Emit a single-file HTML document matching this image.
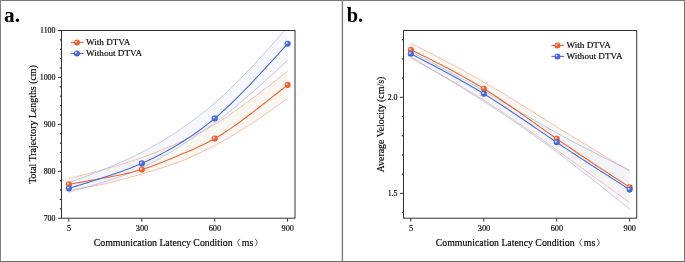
<!DOCTYPE html>
<html><head><meta charset="utf-8">
<style>
html,body{margin:0;padding:0;background:#fff;}
body{width:685px;height:262px;overflow:hidden;}
svg{display:block;will-change:transform;transform:translateZ(0);font-family:"Liberation Serif",serif;}
text{fill:#000;}
</style></head>
<body>
<svg width="685" height="262" viewBox="0 0 685 262">
<defs>
<radialGradient id="go" cx="0.4" cy="0.38" r="0.65">
<stop offset="0" stop-color="#F4734A"/><stop offset="0.6" stop-color="#F0602E"/><stop offset="1" stop-color="#E4521F"/>
</radialGradient>
<radialGradient id="gb" cx="0.4" cy="0.38" r="0.65">
<stop offset="0" stop-color="#5F80E2"/><stop offset="0.6" stop-color="#4669D6"/><stop offset="1" stop-color="#3859C6"/>
</radialGradient>
</defs>
<rect x="0" y="0" width="685" height="262" fill="#fff"/>
<g>
<rect x="0" y="0" width="685" height="1" fill="#787878"/>
<rect x="0" y="261" width="685" height="1" fill="#6a6a6a"/>
<rect x="0" y="0" width="1" height="262" fill="#808080"/>
<rect x="684" y="0" width="1" height="262" fill="#737373"/>
<rect x="341.7" y="0" width="1.4" height="262" fill="#7c7c7c"/>
</g>
<clipPath id="ca"><rect x="61.5" y="30.5" width="233.5" height="187.7"/></clipPath>
<g clip-path="url(#ca)"><path d="M68.80,178.60 L72.51,177.66 L76.22,176.71 L79.93,175.76 L83.63,174.80 L87.34,173.84 L91.05,172.87 L94.76,171.89 L98.47,170.89 L102.18,169.88 L105.88,168.85 L109.59,167.81 L113.30,166.74 L117.01,165.65 L120.72,164.53 L124.43,163.39 L128.14,162.22 L131.84,161.01 L135.55,159.77 L139.26,158.50 L142.97,157.18 L146.68,155.83 L150.39,154.43 L154.09,153.00 L157.80,151.53 L161.51,150.03 L165.22,148.50 L168.93,146.94 L172.64,145.35 L176.35,143.73 L180.05,142.09 L183.76,140.41 L187.47,138.70 L191.18,136.95 L194.89,135.15 L198.60,133.29 L202.31,131.37 L206.01,129.38 L209.72,127.31 L213.43,125.16 L217.14,122.91 L220.85,120.58 L224.56,118.17 L228.26,115.68 L231.97,113.13 L235.68,110.52 L239.39,107.86 L243.10,105.16 L246.81,102.43 L250.52,99.66 L254.22,96.88 L257.93,94.08 L261.64,91.26 L265.35,88.44 L269.06,85.60 L272.77,82.75 L276.47,79.89 L280.18,77.03 L283.89,74.17 L287.60,71.30 L287.60,98.30 L283.89,100.99 L280.18,103.67 L276.47,106.34 L272.77,109.00 L269.06,111.63 L265.35,114.24 L261.64,116.82 L257.93,119.36 L254.22,121.86 L250.52,124.32 L246.81,126.72 L243.10,129.08 L239.39,131.38 L235.68,133.64 L231.97,135.84 L228.26,138.00 L224.56,140.11 L220.85,142.18 L217.14,144.20 L213.43,146.17 L209.72,148.10 L206.01,149.98 L202.31,151.81 L198.60,153.59 L194.89,155.31 L191.18,156.97 L187.47,158.58 L183.76,160.13 L180.05,161.61 L176.35,163.02 L172.64,164.38 L168.93,165.67 L165.22,166.91 L161.51,168.11 L157.80,169.27 L154.09,170.40 L150.39,171.51 L146.68,172.59 L142.97,173.66 L139.26,174.73 L135.55,175.79 L131.84,176.84 L128.14,177.87 L124.43,178.88 L120.72,179.87 L117.01,180.83 L113.30,181.76 L109.59,182.65 L105.88,183.50 L102.18,184.31 L98.47,185.07 L94.76,185.80 L91.05,186.49 L87.34,187.15 L83.63,187.79 L79.93,188.41 L76.22,189.01 L72.51,189.61 L68.80,190.20 Z" fill="#F5EDE3" fill-opacity="0.5" stroke="none"/></g>
<g clip-path="url(#ca)"><path d="M68.80,182.60 L72.51,181.26 L76.22,179.91 L79.93,178.56 L83.63,177.19 L87.34,175.82 L91.05,174.43 L94.76,173.02 L98.47,171.59 L102.18,170.13 L105.88,168.64 L109.59,167.13 L113.30,165.57 L117.01,163.99 L120.72,162.36 L124.43,160.70 L128.14,158.99 L131.84,157.24 L135.55,155.44 L139.26,153.59 L142.97,151.70 L146.68,149.75 L150.39,147.74 L154.09,145.68 L157.80,143.57 L161.51,141.39 L165.22,139.16 L168.93,136.87 L172.64,134.51 L176.35,132.10 L180.05,129.62 L183.76,127.07 L187.47,124.46 L191.18,121.78 L194.89,119.02 L198.60,116.19 L202.31,113.29 L206.01,110.31 L209.72,107.24 L213.43,104.10 L217.14,100.87 L220.85,97.55 L224.56,94.15 L228.26,90.68 L231.97,87.13 L235.68,83.50 L239.39,79.81 L243.10,76.04 L246.81,72.21 L250.52,68.31 L254.22,64.36 L257.93,60.35 L261.64,56.29 L265.35,52.18 L269.06,48.04 L272.77,43.87 L276.47,39.67 L280.18,35.46 L283.89,31.23 L287.60,27.00 L287.60,60.30 L283.89,63.74 L280.18,67.17 L276.47,70.60 L272.77,74.02 L269.06,77.42 L265.35,80.79 L261.64,84.15 L257.93,87.47 L254.22,90.77 L250.52,94.02 L246.81,97.24 L243.10,100.41 L239.39,103.54 L235.68,106.62 L231.97,109.65 L228.26,112.62 L224.56,115.54 L220.85,118.40 L217.14,121.19 L213.43,123.93 L209.72,126.60 L206.01,129.21 L202.31,131.76 L198.60,134.27 L194.89,136.73 L191.18,139.15 L187.47,141.54 L183.76,143.89 L180.05,146.22 L176.35,148.53 L172.64,150.81 L168.93,153.07 L165.22,155.28 L161.51,157.46 L157.80,159.57 L154.09,161.63 L150.39,163.61 L146.68,165.52 L142.97,167.34 L139.26,169.07 L135.55,170.71 L131.84,172.26 L128.14,173.74 L124.43,175.15 L120.72,176.50 L117.01,177.79 L113.30,179.04 L109.59,180.25 L105.88,181.42 L102.18,182.58 L98.47,183.71 L94.76,184.82 L91.05,185.92 L87.34,187.00 L83.63,188.08 L79.93,189.14 L76.22,190.20 L72.51,191.25 L68.80,192.30 Z" fill="#EDF1FB" fill-opacity="0.5" stroke="none"/></g>
<g clip-path="url(#ca)"><path d="M68.80,178.60 L72.51,177.66 L76.22,176.71 L79.93,175.76 L83.63,174.80 L87.34,173.84 L91.05,172.87 L94.76,171.89 L98.47,170.89 L102.18,169.88 L105.88,168.85 L109.59,167.81 L113.30,166.74 L117.01,165.65 L120.72,164.53 L124.43,163.39 L128.14,162.22 L131.84,161.01 L135.55,159.77 L139.26,158.50 L142.97,157.18 L146.68,155.83 L150.39,154.43 L154.09,153.00 L157.80,151.53 L161.51,150.03 L165.22,148.50 L168.93,146.94 L172.64,145.35 L176.35,143.73 L180.05,142.09 L183.76,140.41 L187.47,138.70 L191.18,136.95 L194.89,135.15 L198.60,133.29 L202.31,131.37 L206.01,129.38 L209.72,127.31 L213.43,125.16 L217.14,122.91 L220.85,120.58 L224.56,118.17 L228.26,115.68 L231.97,113.13 L235.68,110.52 L239.39,107.86 L243.10,105.16 L246.81,102.43 L250.52,99.66 L254.22,96.88 L257.93,94.08 L261.64,91.26 L265.35,88.44 L269.06,85.60 L272.77,82.75 L276.47,79.89 L280.18,77.03 L283.89,74.17 L287.60,71.30" fill="none" stroke="#F5A68E" stroke-width="0.7"/><path d="M68.80,190.20 L72.51,189.61 L76.22,189.01 L79.93,188.41 L83.63,187.79 L87.34,187.15 L91.05,186.49 L94.76,185.80 L98.47,185.07 L102.18,184.31 L105.88,183.50 L109.59,182.65 L113.30,181.76 L117.01,180.83 L120.72,179.87 L124.43,178.88 L128.14,177.87 L131.84,176.84 L135.55,175.79 L139.26,174.73 L142.97,173.66 L146.68,172.59 L150.39,171.51 L154.09,170.40 L157.80,169.27 L161.51,168.11 L165.22,166.91 L168.93,165.67 L172.64,164.38 L176.35,163.02 L180.05,161.61 L183.76,160.13 L187.47,158.58 L191.18,156.97 L194.89,155.31 L198.60,153.59 L202.31,151.81 L206.01,149.98 L209.72,148.10 L213.43,146.17 L217.14,144.20 L220.85,142.18 L224.56,140.11 L228.26,138.00 L231.97,135.84 L235.68,133.64 L239.39,131.38 L243.10,129.08 L246.81,126.72 L250.52,124.32 L254.22,121.86 L257.93,119.36 L261.64,116.82 L265.35,114.24 L269.06,111.63 L272.77,109.00 L276.47,106.34 L280.18,103.67 L283.89,100.99 L287.60,98.30" fill="none" stroke="#F5A68E" stroke-width="0.7"/></g>
<g clip-path="url(#ca)"><path d="M68.80,182.60 L72.51,181.26 L76.22,179.91 L79.93,178.56 L83.63,177.19 L87.34,175.82 L91.05,174.43 L94.76,173.02 L98.47,171.59 L102.18,170.13 L105.88,168.64 L109.59,167.13 L113.30,165.57 L117.01,163.99 L120.72,162.36 L124.43,160.70 L128.14,158.99 L131.84,157.24 L135.55,155.44 L139.26,153.59 L142.97,151.70 L146.68,149.75 L150.39,147.74 L154.09,145.68 L157.80,143.57 L161.51,141.39 L165.22,139.16 L168.93,136.87 L172.64,134.51 L176.35,132.10 L180.05,129.62 L183.76,127.07 L187.47,124.46 L191.18,121.78 L194.89,119.02 L198.60,116.19 L202.31,113.29 L206.01,110.31 L209.72,107.24 L213.43,104.10 L217.14,100.87 L220.85,97.55 L224.56,94.15 L228.26,90.68 L231.97,87.13 L235.68,83.50 L239.39,79.81 L243.10,76.04 L246.81,72.21 L250.52,68.31 L254.22,64.36 L257.93,60.35 L261.64,56.29 L265.35,52.18 L269.06,48.04 L272.77,43.87 L276.47,39.67 L280.18,35.46 L283.89,31.23 L287.60,27.00" fill="none" stroke="#A2B6EB" stroke-width="0.7"/><path d="M68.80,192.30 L72.51,191.25 L76.22,190.20 L79.93,189.14 L83.63,188.08 L87.34,187.00 L91.05,185.92 L94.76,184.82 L98.47,183.71 L102.18,182.58 L105.88,181.42 L109.59,180.25 L113.30,179.04 L117.01,177.79 L120.72,176.50 L124.43,175.15 L128.14,173.74 L131.84,172.26 L135.55,170.71 L139.26,169.07 L142.97,167.34 L146.68,165.52 L150.39,163.61 L154.09,161.63 L157.80,159.57 L161.51,157.46 L165.22,155.28 L168.93,153.07 L172.64,150.81 L176.35,148.53 L180.05,146.22 L183.76,143.89 L187.47,141.54 L191.18,139.15 L194.89,136.73 L198.60,134.27 L202.31,131.76 L206.01,129.21 L209.72,126.60 L213.43,123.93 L217.14,121.19 L220.85,118.40 L224.56,115.54 L228.26,112.62 L231.97,109.65 L235.68,106.62 L239.39,103.54 L243.10,100.41 L246.81,97.24 L250.52,94.02 L254.22,90.77 L257.93,87.47 L261.64,84.15 L265.35,80.79 L269.06,77.42 L272.77,74.02 L276.47,70.60 L280.18,67.17 L283.89,63.74 L287.60,60.30" fill="none" stroke="#A2B6EB" stroke-width="0.7"/></g>
<path d="M68.80,184.40 L72.51,183.73 L76.22,183.05 L79.93,182.38 L83.63,181.71 L87.34,181.03 L91.05,180.36 L94.76,179.68 L98.47,179.00 L102.18,178.32 L105.88,177.64 L109.59,176.95 L113.30,176.25 L117.01,175.53 L120.72,174.78 L124.43,173.98 L128.14,173.15 L131.84,172.25 L135.55,171.29 L139.26,170.26 L142.97,169.14 L146.68,167.94 L150.39,166.66 L154.09,165.32 L157.80,163.91 L161.51,162.47 L165.22,160.98 L168.93,159.46 L172.64,157.93 L176.35,156.39 L180.05,154.85 L183.76,153.30 L187.47,151.74 L191.18,150.15 L194.89,148.52 L198.60,146.84 L202.31,145.09 L206.01,143.26 L209.72,141.34 L213.43,139.32 L217.14,137.18 L220.85,134.93 L224.56,132.57 L228.26,130.12 L231.97,127.58 L235.68,124.97 L239.39,122.29 L243.10,119.56 L246.81,116.78 L250.52,113.97 L254.22,111.13 L257.93,108.27 L261.64,105.39 L265.35,102.50 L269.06,99.59 L272.77,96.66 L276.47,93.73 L280.18,90.79 L283.89,87.85 L287.60,84.90" fill="none" stroke="#F06432" stroke-width="1.1" stroke-linecap="round"/>
<path d="M68.80,188.40 L72.51,187.25 L76.22,186.11 L79.93,184.96 L83.63,183.80 L87.34,182.64 L91.05,181.48 L94.76,180.30 L98.47,179.12 L102.18,177.92 L105.88,176.71 L109.59,175.49 L113.30,174.24 L117.01,172.97 L120.72,171.67 L124.43,170.33 L128.14,168.94 L131.84,167.51 L135.55,166.03 L139.26,164.49 L142.97,162.89 L146.68,161.21 L150.39,159.48 L154.09,157.67 L157.80,155.80 L161.51,153.87 L165.22,151.87 L168.93,149.81 L172.64,147.68 L176.35,145.50 L180.05,143.25 L183.76,140.93 L187.47,138.55 L191.18,136.10 L194.89,133.56 L198.60,130.93 L202.31,128.22 L206.01,125.40 L209.72,122.49 L213.43,119.46 L217.14,116.32 L220.85,113.07 L224.56,109.72 L228.26,106.27 L231.97,102.74 L235.68,99.12 L239.39,95.43 L243.10,91.68 L246.81,87.87 L250.52,84.01 L254.22,80.11 L257.93,76.17 L261.64,72.19 L265.35,68.19 L269.06,64.16 L272.77,60.12 L276.47,56.05 L280.18,51.97 L283.89,47.89 L287.60,43.80" fill="none" stroke="#486CD8" stroke-width="1.1" stroke-linecap="round"/>
<circle cx="68.80" cy="184.40" r="3.05" fill="url(#go)"/><circle cx="67.95" cy="183.60" r="0.95" fill="#fff" fill-opacity="0.8"/>
<circle cx="141.80" cy="169.50" r="3.05" fill="url(#go)"/><circle cx="140.95" cy="168.70" r="0.95" fill="#fff" fill-opacity="0.8"/>
<circle cx="214.70" cy="138.60" r="3.05" fill="url(#go)"/><circle cx="213.85" cy="137.80" r="0.95" fill="#fff" fill-opacity="0.8"/>
<circle cx="287.60" cy="84.90" r="3.05" fill="url(#go)"/><circle cx="286.75" cy="84.10" r="0.95" fill="#fff" fill-opacity="0.8"/>
<circle cx="68.80" cy="188.40" r="3.05" fill="url(#gb)"/><circle cx="67.95" cy="187.60" r="0.95" fill="#fff" fill-opacity="0.8"/>
<circle cx="141.80" cy="163.40" r="3.05" fill="url(#gb)"/><circle cx="140.95" cy="162.60" r="0.95" fill="#fff" fill-opacity="0.8"/>
<circle cx="214.70" cy="118.40" r="3.05" fill="url(#gb)"/><circle cx="213.85" cy="117.60" r="0.95" fill="#fff" fill-opacity="0.8"/>
<circle cx="287.60" cy="43.80" r="3.05" fill="url(#gb)"/><circle cx="286.75" cy="43.00" r="0.95" fill="#fff" fill-opacity="0.8"/>
<rect x="61.5" y="30.5" width="233.5" height="187.7" fill="none" stroke="#333" stroke-width="1"/>
<line x1="57.9" y1="30.5" x2="61.5" y2="30.5" stroke="#333" stroke-width="1"/>
<text x="55.5" y="33.40" font-size="7.9" text-anchor="end" stroke="#000" stroke-width="0.15">1100</text>
<line x1="57.9" y1="77.4" x2="61.5" y2="77.4" stroke="#333" stroke-width="1"/>
<text x="55.5" y="80.30" font-size="7.9" text-anchor="end" stroke="#000" stroke-width="0.15">1000</text>
<line x1="57.9" y1="124.3" x2="61.5" y2="124.3" stroke="#333" stroke-width="1"/>
<text x="55.5" y="127.20" font-size="7.9" text-anchor="end" stroke="#000" stroke-width="0.15">900</text>
<line x1="57.9" y1="171.3" x2="61.5" y2="171.3" stroke="#333" stroke-width="1"/>
<text x="55.5" y="174.20" font-size="7.9" text-anchor="end" stroke="#000" stroke-width="0.15">800</text>
<line x1="57.9" y1="218.2" x2="61.5" y2="218.2" stroke="#333" stroke-width="1"/>
<text x="55.5" y="221.10" font-size="7.9" text-anchor="end" stroke="#000" stroke-width="0.15">700</text>
<line x1="59.8" y1="39.88" x2="61.5" y2="39.88" stroke="#222" stroke-width="1.1"/>
<line x1="59.8" y1="49.27" x2="61.5" y2="49.27" stroke="#222" stroke-width="1.1"/>
<line x1="59.8" y1="58.66" x2="61.5" y2="58.66" stroke="#222" stroke-width="1.1"/>
<line x1="59.8" y1="68.04" x2="61.5" y2="68.04" stroke="#222" stroke-width="1.1"/>
<line x1="59.8" y1="86.81" x2="61.5" y2="86.81" stroke="#222" stroke-width="1.1"/>
<line x1="59.8" y1="96.19" x2="61.5" y2="96.19" stroke="#222" stroke-width="1.1"/>
<line x1="59.8" y1="105.58" x2="61.5" y2="105.58" stroke="#222" stroke-width="1.1"/>
<line x1="59.8" y1="114.97" x2="61.5" y2="114.97" stroke="#222" stroke-width="1.1"/>
<line x1="59.8" y1="133.74" x2="61.5" y2="133.74" stroke="#222" stroke-width="1.1"/>
<line x1="59.8" y1="143.12" x2="61.5" y2="143.12" stroke="#222" stroke-width="1.1"/>
<line x1="59.8" y1="152.50" x2="61.5" y2="152.50" stroke="#222" stroke-width="1.1"/>
<line x1="59.8" y1="161.89" x2="61.5" y2="161.89" stroke="#222" stroke-width="1.1"/>
<line x1="59.8" y1="180.66" x2="61.5" y2="180.66" stroke="#222" stroke-width="1.1"/>
<line x1="59.8" y1="190.04" x2="61.5" y2="190.04" stroke="#222" stroke-width="1.1"/>
<line x1="59.8" y1="199.43" x2="61.5" y2="199.43" stroke="#222" stroke-width="1.1"/>
<line x1="59.8" y1="208.81" x2="61.5" y2="208.81" stroke="#222" stroke-width="1.1"/>
<line x1="68.8" y1="218.2" x2="68.8" y2="221.6" stroke="#333" stroke-width="1"/>
<text x="69.0" y="230.80" font-size="8.3" text-anchor="middle" stroke="#000" stroke-width="0.15">5</text>
<line x1="141.8" y1="218.2" x2="141.8" y2="221.6" stroke="#333" stroke-width="1"/>
<text x="142.0" y="230.80" font-size="8.3" text-anchor="middle" stroke="#000" stroke-width="0.15">300</text>
<line x1="214.7" y1="218.2" x2="214.7" y2="221.6" stroke="#333" stroke-width="1"/>
<text x="214.89999999999998" y="230.80" font-size="8.3" text-anchor="middle" stroke="#000" stroke-width="0.15">600</text>
<line x1="287.6" y1="218.2" x2="287.6" y2="221.6" stroke="#333" stroke-width="1"/>
<text x="287.8" y="230.80" font-size="8.3" text-anchor="middle" stroke="#000" stroke-width="0.15">900</text>
<text x="93.8" y="245.8" font-size="9.8" stroke="#000" stroke-width="0.15">Communication Latency Condition</text>
<path d="M239.9,238.7 Q235.7,242.5 239.9,246.4" fill="none" stroke="#222" stroke-width="0.75"/>
<text x="241.85" y="245.8" font-size="9.8" stroke="#000" stroke-width="0.15">ms</text>
<path d="M255.0,238.7 Q259.3,242.5 255.0,246.4" fill="none" stroke="#222" stroke-width="0.75"/>
<text transform="translate(35.7,124.5) rotate(-90)" font-size="9.9" text-anchor="middle" stroke="#000" stroke-width="0.15">Total Trajectory Lengths (cm)</text>
<line x1="70.90" y1="42.4" x2="83.60" y2="42.4" stroke="#F06432" stroke-width="1.1"/>
<circle cx="76.90" cy="42.40" r="3.0" fill="url(#go)"/><circle cx="76.05" cy="41.60" r="0.95" fill="#fff" fill-opacity="0.8"/>
<text x="86.00" y="45.40" font-size="9.15" stroke="#000" stroke-width="0.15">With DTVA</text>
<line x1="70.90" y1="53.4" x2="83.60" y2="53.4" stroke="#486CD8" stroke-width="1.1"/>
<circle cx="76.90" cy="53.40" r="3.0" fill="url(#gb)"/><circle cx="76.05" cy="52.60" r="0.95" fill="#fff" fill-opacity="0.8"/>
<text x="86.00" y="56.40" font-size="9.15" stroke="#000" stroke-width="0.15">Without DTVA</text>
<text x="4" y="22" font-size="21.3" font-weight="bold">a.</text>
<clipPath id="cb"><rect x="403.5" y="30.5" width="233.20000000000005" height="187.7"/></clipPath>
<g clip-path="url(#cb)"><path d="M410.80,43.20 L414.51,45.09 L418.22,46.98 L421.93,48.87 L425.63,50.76 L429.34,52.66 L433.05,54.57 L436.76,56.48 L440.47,58.41 L444.18,60.34 L447.88,62.29 L451.59,64.24 L455.30,66.22 L459.01,68.21 L462.72,70.21 L466.43,72.24 L470.14,74.28 L473.84,76.34 L477.55,78.43 L481.26,80.54 L484.97,82.68 L488.68,84.84 L492.39,87.02 L496.09,89.22 L499.80,91.45 L503.51,93.69 L507.22,95.95 L510.93,98.22 L514.64,100.51 L518.35,102.81 L522.05,105.11 L525.76,107.43 L529.47,109.75 L533.18,112.07 L536.89,114.40 L540.60,116.73 L544.31,119.06 L548.01,121.38 L551.72,123.70 L555.43,126.01 L559.14,128.31 L562.85,130.61 L566.56,132.90 L570.26,135.18 L573.97,137.45 L577.68,139.72 L581.39,141.98 L585.10,144.23 L588.81,146.48 L592.52,148.73 L596.22,150.97 L599.93,153.20 L603.64,155.44 L607.35,157.66 L611.06,159.89 L614.77,162.12 L618.47,164.34 L622.18,166.56 L625.89,168.78 L629.60,171.00 L629.60,202.50 L625.89,199.82 L622.18,197.14 L618.47,194.46 L614.77,191.78 L611.06,189.10 L607.35,186.42 L603.64,183.74 L599.93,181.06 L596.22,178.39 L592.52,175.71 L588.81,173.04 L585.10,170.37 L581.39,167.70 L577.68,165.04 L573.97,162.37 L570.26,159.71 L566.56,157.05 L562.85,154.40 L559.14,151.74 L555.43,149.09 L551.72,146.45 L548.01,143.81 L544.31,141.17 L540.60,138.54 L536.89,135.93 L533.18,133.32 L529.47,130.72 L525.76,128.14 L522.05,125.57 L518.35,123.01 L514.64,120.48 L510.93,117.96 L507.22,115.46 L503.51,112.98 L499.80,110.52 L496.09,108.09 L492.39,105.68 L488.68,103.29 L484.97,100.94 L481.26,98.61 L477.55,96.31 L473.84,94.04 L470.14,91.79 L466.43,89.56 L462.72,87.36 L459.01,85.17 L455.30,83.01 L451.59,80.86 L447.88,78.73 L444.18,76.62 L440.47,74.52 L436.76,72.43 L433.05,70.35 L429.34,68.28 L425.63,66.21 L421.93,64.15 L418.22,62.10 L414.51,60.05 L410.80,58.00 Z" fill="#F5EDE3" fill-opacity="0.5" stroke="none"/></g>
<g clip-path="url(#cb)"><path d="M410.80,51.50 L414.51,53.45 L418.22,55.40 L421.93,57.35 L425.63,59.31 L429.34,61.27 L433.05,63.23 L436.76,65.20 L440.47,67.17 L444.18,69.15 L447.88,71.13 L451.59,73.13 L455.30,75.13 L459.01,77.14 L462.72,79.16 L466.43,81.20 L470.14,83.24 L473.84,85.30 L477.55,87.38 L481.26,89.46 L484.97,91.56 L488.68,93.68 L492.39,95.81 L496.09,97.95 L499.80,100.10 L503.51,102.26 L507.22,104.43 L510.93,106.59 L514.64,108.76 L518.35,110.93 L522.05,113.10 L525.76,115.26 L529.47,117.42 L533.18,119.57 L536.89,121.71 L540.60,123.84 L544.31,125.95 L548.01,128.05 L551.72,130.14 L555.43,132.20 L559.14,134.24 L562.85,136.26 L566.56,138.26 L570.26,140.24 L573.97,142.21 L577.68,144.16 L581.39,146.09 L585.10,148.01 L588.81,149.91 L592.52,151.80 L596.22,153.68 L599.93,155.56 L603.64,157.42 L607.35,159.27 L611.06,161.12 L614.77,162.96 L618.47,164.80 L622.18,166.64 L625.89,168.47 L629.60,170.30 L629.60,209.20 L625.89,206.22 L622.18,203.24 L618.47,200.26 L614.77,197.29 L611.06,194.32 L607.35,191.36 L603.64,188.40 L599.93,185.45 L596.22,182.51 L592.52,179.58 L588.81,176.66 L585.10,173.75 L581.39,170.86 L577.68,167.98 L573.97,165.11 L570.26,162.26 L566.56,159.43 L562.85,156.62 L559.14,153.83 L555.43,151.05 L551.72,148.30 L548.01,145.57 L544.31,142.86 L540.60,140.18 L536.89,137.51 L533.18,134.86 L529.47,132.24 L525.76,129.63 L522.05,127.04 L518.35,124.48 L514.64,121.93 L510.93,119.41 L507.22,116.90 L503.51,114.41 L499.80,111.94 L496.09,109.49 L492.39,107.06 L488.68,104.65 L484.97,102.25 L481.26,99.87 L477.55,97.52 L473.84,95.17 L470.14,92.85 L466.43,90.54 L462.72,88.24 L459.01,85.95 L455.30,83.68 L451.59,81.42 L447.88,79.16 L444.18,76.92 L440.47,74.69 L436.76,72.46 L433.05,70.24 L429.34,68.02 L425.63,65.81 L421.93,63.61 L418.22,61.40 L414.51,59.20 L410.80,57.00 Z" fill="#EDF1FB" fill-opacity="0.5" stroke="none"/></g>
<g clip-path="url(#cb)"><path d="M410.80,43.20 L414.51,45.09 L418.22,46.98 L421.93,48.87 L425.63,50.76 L429.34,52.66 L433.05,54.57 L436.76,56.48 L440.47,58.41 L444.18,60.34 L447.88,62.29 L451.59,64.24 L455.30,66.22 L459.01,68.21 L462.72,70.21 L466.43,72.24 L470.14,74.28 L473.84,76.34 L477.55,78.43 L481.26,80.54 L484.97,82.68 L488.68,84.84 L492.39,87.02 L496.09,89.22 L499.80,91.45 L503.51,93.69 L507.22,95.95 L510.93,98.22 L514.64,100.51 L518.35,102.81 L522.05,105.11 L525.76,107.43 L529.47,109.75 L533.18,112.07 L536.89,114.40 L540.60,116.73 L544.31,119.06 L548.01,121.38 L551.72,123.70 L555.43,126.01 L559.14,128.31 L562.85,130.61 L566.56,132.90 L570.26,135.18 L573.97,137.45 L577.68,139.72 L581.39,141.98 L585.10,144.23 L588.81,146.48 L592.52,148.73 L596.22,150.97 L599.93,153.20 L603.64,155.44 L607.35,157.66 L611.06,159.89 L614.77,162.12 L618.47,164.34 L622.18,166.56 L625.89,168.78 L629.60,171.00" fill="none" stroke="#F5A68E" stroke-width="0.7"/><path d="M410.80,58.00 L414.51,60.05 L418.22,62.10 L421.93,64.15 L425.63,66.21 L429.34,68.28 L433.05,70.35 L436.76,72.43 L440.47,74.52 L444.18,76.62 L447.88,78.73 L451.59,80.86 L455.30,83.01 L459.01,85.17 L462.72,87.36 L466.43,89.56 L470.14,91.79 L473.84,94.04 L477.55,96.31 L481.26,98.61 L484.97,100.94 L488.68,103.29 L492.39,105.68 L496.09,108.09 L499.80,110.52 L503.51,112.98 L507.22,115.46 L510.93,117.96 L514.64,120.48 L518.35,123.01 L522.05,125.57 L525.76,128.14 L529.47,130.72 L533.18,133.32 L536.89,135.93 L540.60,138.54 L544.31,141.17 L548.01,143.81 L551.72,146.45 L555.43,149.09 L559.14,151.74 L562.85,154.40 L566.56,157.05 L570.26,159.71 L573.97,162.37 L577.68,165.04 L581.39,167.70 L585.10,170.37 L588.81,173.04 L592.52,175.71 L596.22,178.39 L599.93,181.06 L603.64,183.74 L607.35,186.42 L611.06,189.10 L614.77,191.78 L618.47,194.46 L622.18,197.14 L625.89,199.82 L629.60,202.50" fill="none" stroke="#F5A68E" stroke-width="0.7"/></g>
<g clip-path="url(#cb)"><path d="M410.80,51.50 L414.51,53.45 L418.22,55.40 L421.93,57.35 L425.63,59.31 L429.34,61.27 L433.05,63.23 L436.76,65.20 L440.47,67.17 L444.18,69.15 L447.88,71.13 L451.59,73.13 L455.30,75.13 L459.01,77.14 L462.72,79.16 L466.43,81.20 L470.14,83.24 L473.84,85.30 L477.55,87.38 L481.26,89.46 L484.97,91.56 L488.68,93.68 L492.39,95.81 L496.09,97.95 L499.80,100.10 L503.51,102.26 L507.22,104.43 L510.93,106.59 L514.64,108.76 L518.35,110.93 L522.05,113.10 L525.76,115.26 L529.47,117.42 L533.18,119.57 L536.89,121.71 L540.60,123.84 L544.31,125.95 L548.01,128.05 L551.72,130.14 L555.43,132.20 L559.14,134.24 L562.85,136.26 L566.56,138.26 L570.26,140.24 L573.97,142.21 L577.68,144.16 L581.39,146.09 L585.10,148.01 L588.81,149.91 L592.52,151.80 L596.22,153.68 L599.93,155.56 L603.64,157.42 L607.35,159.27 L611.06,161.12 L614.77,162.96 L618.47,164.80 L622.18,166.64 L625.89,168.47 L629.60,170.30" fill="none" stroke="#A2B6EB" stroke-width="0.7"/><path d="M410.80,57.00 L414.51,59.20 L418.22,61.40 L421.93,63.61 L425.63,65.81 L429.34,68.02 L433.05,70.24 L436.76,72.46 L440.47,74.69 L444.18,76.92 L447.88,79.16 L451.59,81.42 L455.30,83.68 L459.01,85.95 L462.72,88.24 L466.43,90.54 L470.14,92.85 L473.84,95.17 L477.55,97.52 L481.26,99.87 L484.97,102.25 L488.68,104.65 L492.39,107.06 L496.09,109.49 L499.80,111.94 L503.51,114.41 L507.22,116.90 L510.93,119.41 L514.64,121.93 L518.35,124.48 L522.05,127.04 L525.76,129.63 L529.47,132.24 L533.18,134.86 L536.89,137.51 L540.60,140.18 L544.31,142.86 L548.01,145.57 L551.72,148.30 L555.43,151.05 L559.14,153.83 L562.85,156.62 L566.56,159.43 L570.26,162.26 L573.97,165.11 L577.68,167.98 L581.39,170.86 L585.10,173.75 L588.81,176.66 L592.52,179.58 L596.22,182.51 L599.93,185.45 L603.64,188.40 L607.35,191.36 L611.06,194.32 L614.77,197.29 L618.47,200.26 L622.18,203.24 L625.89,206.22 L629.60,209.20" fill="none" stroke="#A2B6EB" stroke-width="0.7"/></g>
<path d="M410.80,49.70 L414.51,51.53 L418.22,53.36 L421.93,55.19 L425.63,57.03 L429.34,58.88 L433.05,60.74 L436.76,62.62 L440.47,64.52 L444.18,66.43 L447.88,68.36 L451.59,70.32 L455.30,72.31 L459.01,74.32 L462.72,76.37 L466.43,78.44 L470.14,80.56 L473.84,82.71 L477.55,84.91 L481.26,87.14 L484.97,89.42 L488.68,91.75 L492.39,94.12 L496.09,96.53 L499.80,98.98 L503.51,101.46 L507.22,103.97 L510.93,106.51 L514.64,109.07 L518.35,111.65 L522.05,114.24 L525.76,116.85 L529.47,119.47 L533.18,122.10 L536.89,124.73 L540.60,127.36 L544.31,129.98 L548.01,132.60 L551.72,135.22 L555.43,137.81 L559.14,140.40 L562.85,142.96 L566.56,145.51 L570.26,148.05 L573.97,150.57 L577.68,153.08 L581.39,155.57 L585.10,158.06 L588.81,160.53 L592.52,163.00 L596.22,165.45 L599.93,167.90 L603.64,170.34 L607.35,172.77 L611.06,175.20 L614.77,177.63 L618.47,180.05 L622.18,182.47 L625.89,184.88 L629.60,187.30" fill="none" stroke="#F06432" stroke-width="1.1" stroke-linecap="round"/>
<path d="M410.80,53.80 L414.51,55.71 L418.22,57.63 L421.93,59.54 L425.63,61.47 L429.34,63.40 L433.05,65.34 L436.76,67.29 L440.47,69.25 L444.18,71.23 L447.88,73.23 L451.59,75.24 L455.30,77.28 L459.01,79.34 L462.72,81.42 L466.43,83.52 L470.14,85.66 L473.84,87.83 L477.55,90.02 L481.26,92.25 L484.97,94.52 L488.68,96.82 L492.39,99.15 L496.09,101.52 L499.80,103.91 L503.51,106.33 L507.22,108.77 L510.93,111.24 L514.64,113.72 L518.35,116.21 L522.05,118.72 L525.76,121.24 L529.47,123.77 L533.18,126.30 L536.89,128.83 L540.60,131.36 L544.31,133.89 L548.01,136.42 L551.72,138.94 L555.43,141.44 L559.14,143.94 L562.85,146.42 L566.56,148.89 L570.26,151.35 L573.97,153.79 L577.68,156.23 L581.39,158.65 L585.10,161.07 L588.81,163.47 L592.52,165.87 L596.22,168.27 L599.93,170.65 L603.64,173.03 L607.35,175.41 L611.06,177.78 L614.77,180.15 L618.47,182.51 L622.18,184.88 L625.89,187.24 L629.60,189.60" fill="none" stroke="#486CD8" stroke-width="1.1" stroke-linecap="round"/>
<circle cx="410.80" cy="49.70" r="3.05" fill="url(#go)"/><circle cx="409.95" cy="48.90" r="0.95" fill="#fff" fill-opacity="0.8"/>
<circle cx="483.80" cy="88.70" r="3.05" fill="url(#go)"/><circle cx="482.95" cy="87.90" r="0.95" fill="#fff" fill-opacity="0.8"/>
<circle cx="556.70" cy="138.70" r="3.05" fill="url(#go)"/><circle cx="555.85" cy="137.90" r="0.95" fill="#fff" fill-opacity="0.8"/>
<circle cx="629.60" cy="187.30" r="3.05" fill="url(#go)"/><circle cx="628.75" cy="186.50" r="0.95" fill="#fff" fill-opacity="0.8"/>
<circle cx="410.80" cy="53.80" r="3.05" fill="url(#gb)"/><circle cx="409.95" cy="53.00" r="0.95" fill="#fff" fill-opacity="0.8"/>
<circle cx="483.80" cy="93.80" r="3.05" fill="url(#gb)"/><circle cx="482.95" cy="93.00" r="0.95" fill="#fff" fill-opacity="0.8"/>
<circle cx="556.70" cy="142.30" r="3.05" fill="url(#gb)"/><circle cx="555.85" cy="141.50" r="0.95" fill="#fff" fill-opacity="0.8"/>
<circle cx="629.60" cy="189.60" r="3.05" fill="url(#gb)"/><circle cx="628.75" cy="188.80" r="0.95" fill="#fff" fill-opacity="0.8"/>
<rect x="403.5" y="30.5" width="233.20000000000005" height="187.7" fill="none" stroke="#333" stroke-width="1"/>
<line x1="399.9" y1="97.3" x2="403.5" y2="97.3" stroke="#333" stroke-width="1"/>
<text x="397.5" y="100.20" font-size="7.9" text-anchor="end" stroke="#000" stroke-width="0.15">2.0</text>
<line x1="399.9" y1="193.4" x2="403.5" y2="193.4" stroke="#333" stroke-width="1"/>
<text x="397.5" y="196.30" font-size="7.9" text-anchor="end" stroke="#000" stroke-width="0.15">1.5</text>
<line x1="401.8" y1="39.64" x2="403.5" y2="39.64" stroke="#222" stroke-width="1.1"/>
<line x1="401.8" y1="58.86" x2="403.5" y2="58.86" stroke="#222" stroke-width="1.1"/>
<line x1="401.8" y1="78.08" x2="403.5" y2="78.08" stroke="#222" stroke-width="1.1"/>
<line x1="401.8" y1="116.52" x2="403.5" y2="116.52" stroke="#222" stroke-width="1.1"/>
<line x1="401.8" y1="135.74" x2="403.5" y2="135.74" stroke="#222" stroke-width="1.1"/>
<line x1="401.8" y1="154.96" x2="403.5" y2="154.96" stroke="#222" stroke-width="1.1"/>
<line x1="401.8" y1="174.18" x2="403.5" y2="174.18" stroke="#222" stroke-width="1.1"/>
<line x1="401.8" y1="212.62" x2="403.5" y2="212.62" stroke="#222" stroke-width="1.1"/>
<line x1="410.8" y1="218.2" x2="410.8" y2="221.6" stroke="#333" stroke-width="1"/>
<text x="411.0" y="230.80" font-size="8.3" text-anchor="middle" stroke="#000" stroke-width="0.15">5</text>
<line x1="483.8" y1="218.2" x2="483.8" y2="221.6" stroke="#333" stroke-width="1"/>
<text x="484.0" y="230.80" font-size="8.3" text-anchor="middle" stroke="#000" stroke-width="0.15">300</text>
<line x1="556.7" y1="218.2" x2="556.7" y2="221.6" stroke="#333" stroke-width="1"/>
<text x="556.9000000000001" y="230.80" font-size="8.3" text-anchor="middle" stroke="#000" stroke-width="0.15">600</text>
<line x1="629.6" y1="218.2" x2="629.6" y2="221.6" stroke="#333" stroke-width="1"/>
<text x="629.8000000000001" y="230.80" font-size="8.3" text-anchor="middle" stroke="#000" stroke-width="0.15">900</text>
<text x="435.8" y="245.8" font-size="9.8" stroke="#000" stroke-width="0.15">Communication Latency Condition</text>
<path d="M581.9,238.7 Q577.7,242.5 581.9,246.4" fill="none" stroke="#222" stroke-width="0.75"/>
<text x="583.85" y="245.8" font-size="9.8" stroke="#000" stroke-width="0.15">ms</text>
<path d="M597.0,238.7 Q601.3,242.5 597.0,246.4" fill="none" stroke="#222" stroke-width="0.75"/>
<text transform="translate(383.8,124.5) rotate(-90)" font-size="9.9" text-anchor="middle" stroke="#000" stroke-width="0.15">Average Velocity (cm/s)</text>
<line x1="551.40" y1="45.4" x2="564.10" y2="45.4" stroke="#F06432" stroke-width="1.1"/>
<circle cx="557.40" cy="45.40" r="3.0" fill="url(#go)"/><circle cx="556.55" cy="44.60" r="0.95" fill="#fff" fill-opacity="0.8"/>
<text x="566.50" y="48.40" font-size="9.15" stroke="#000" stroke-width="0.15">With DTVA</text>
<line x1="551.40" y1="56.4" x2="564.10" y2="56.4" stroke="#486CD8" stroke-width="1.1"/>
<circle cx="557.40" cy="56.40" r="3.0" fill="url(#gb)"/><circle cx="556.55" cy="55.60" r="0.95" fill="#fff" fill-opacity="0.8"/>
<text x="566.50" y="59.40" font-size="9.15" stroke="#000" stroke-width="0.15">Without DTVA</text>
<text x="346.7" y="22" font-size="20.4" font-weight="bold">b.</text>
</svg>
</body></html>
